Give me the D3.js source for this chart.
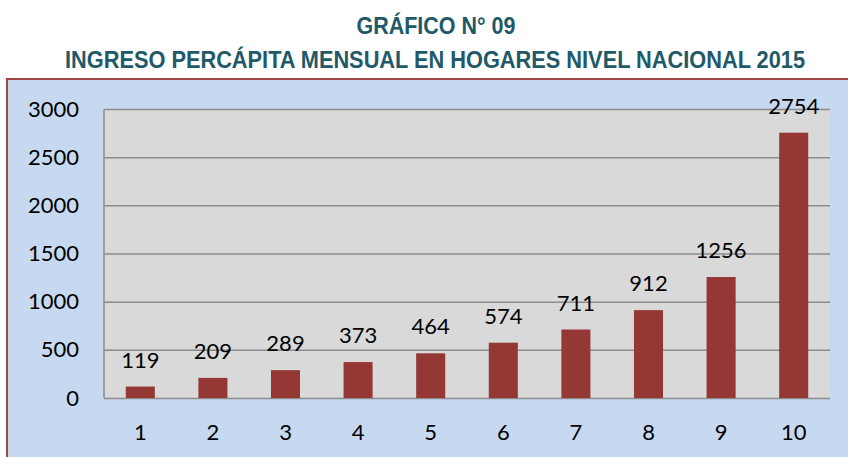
<!DOCTYPE html>
<html>
<head>
<meta charset="utf-8">
<script src="https://cdn.jsdelivr.net/npm/d3@7"></script>
<style>
  body { margin: 0; background: #fff; }
</style>
</head>
<body>
<div id="chart"></div>
<script>
// Chart data
const categories = ["1", "2", "3", "4", "5", "6", "7", "8", "9", "10"];
const values = [119, 209, 289, 373, 464, 574, 711, 912, 1256, 2754];
const yTicks = [0, 500, 1000, 1500, 2000, 2500, 3000];
const titleLines = ["GRÁFICO N° 09", "INGRESO PERCÁPITA MENSUAL EN HOGARES NIVEL NACIONAL 2015"];

const width = 848;
const height = 457;
const plot = { left: 104, top: 109, right: 830, bottom: 398 };

const svg = d3.select('#chart')
    .append('svg')
    .attr('width', width)
    .attr('height', height);

// Title (narrow bold font squeezed to the reference widths)
const titleLayout = [
    { x: 436, y: 34, len: 159 },
    { x: 435, y: 68, len: 740 }
];
svg.selectAll('.title')
    .data(titleLines)
    .enter()
    .append('text')
    .attr('class', 'title')
    .attr('x', (d, i) => titleLayout[i].x)
    .attr('y', (d, i) => titleLayout[i].y)
    .attr('text-anchor', 'middle')
    .attr('textLength', (d, i) => titleLayout[i].len)
    .attr('lengthAdjust', 'spacingAndGlyphs')
    .style('font-family', '"Liberation Sans", Arial, sans-serif')
    .style('font-weight', 'bold')
    .style('font-size', '23px')
    .style('fill', '#215968')
    .text(d => d);

// Outer chart box
svg.append('rect')
    .attr('x', 7)
    .attr('y', 79)
    .attr('width', 860)
    .attr('height', 400)
    .style('fill', '#C6D9F1')
    .style('stroke', '#A04542')
    .style('stroke-width', 2);

// Scales
const x = d3.scaleBand()
    .domain(categories)
    .range([plot.left, plot.right])
    .paddingInner(0.6)
    .paddingOuter(0.3);

const y = d3.scaleLinear()
    .domain([0, 3000])
    .range([plot.bottom, plot.top]);

// Plot area
svg.append('rect')
    .attr('x', plot.left)
    .attr('y', plot.top)
    .attr('width', plot.right - plot.left)
    .attr('height', plot.bottom - plot.top)
    .style('fill', '#D9D9D9');

// Gridlines
svg.append('g')
    .attr('transform', `translate(${plot.left},0)`)
    .call(d3.axisLeft(y).tickValues(yTicks).tickSize(-(plot.right - plot.left)).tickFormat(''))
    .call(g => g.select('.domain').remove())
    .call(g => g.selectAll('line').style('stroke', '#8C8C8C').style('stroke-width', 1.5));

// Left border of plot
svg.append('line')
    .attr('x1', plot.left).attr('x2', plot.left)
    .attr('y1', plot.top).attr('y2', plot.bottom)
    .style('stroke', '#8C8C8C')
    .style('stroke-width', 1.5);

const labelFont = 'Lato, "Open Sans", sans-serif';

// Y tick labels
const yAxis = svg.append('g')
    .attr('transform', `translate(${plot.left},0)`)
    .call(d3.axisLeft(y).tickValues(yTicks).tickSize(0).tickPadding(25).tickFormat(d3.format('d')));
yAxis.select('.domain').remove();
yAxis.selectAll('text')
    .style('font-family', labelFont)
    .style('font-size', '22px')
    .style('fill', '#000');

// X tick labels
const xAxis = svg.append('g')
    .attr('transform', `translate(0,${plot.bottom})`)
    .call(d3.axisBottom(x).tickSize(0).tickPadding(26));
xAxis.select('.domain').remove();
xAxis.selectAll('text')
    .style('font-family', labelFont)
    .style('font-size', '22px')
    .style('fill', '#000');

// Bars
svg.selectAll('.bar')
    .data(values)
    .enter()
    .append('rect')
    .attr('class', 'bar')
    .attr('x', (d, i) => x(categories[i]))
    .attr('y', d => y(d))
    .attr('width', x.bandwidth())
    .attr('height', d => y(0) - y(d))
    .style('fill', '#953735');

// Value labels
svg.selectAll('.value-label')
    .data(values)
    .enter()
    .append('text')
    .attr('class', 'value-label')
    .attr('x', (d, i) => x(categories[i]) + x.bandwidth() / 2)
    .attr('y', d => y(d) - 19)
    .attr('text-anchor', 'middle')
    .style('font-family', labelFont)
    .style('font-size', '22px')
    .style('fill', '#000')
    .text(d => d);
</script>
</body>
</html>
